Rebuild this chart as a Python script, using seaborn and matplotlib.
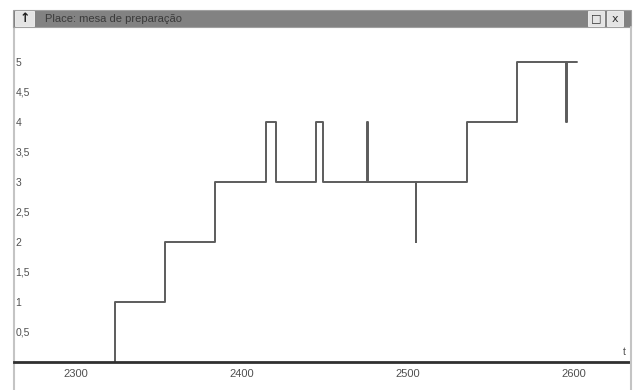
import matplotlib
matplotlib.use("Agg")
import matplotlib.pyplot as plt
from matplotlib.patches import Rectangle
import pandas as pd
import seaborn as sns

# step series: time of change -> value held afterwards
TIMES = [2323.5, 2323.5, 2353.5, 2383.5, 2414.5, 2420.5, 2444.5, 2449.0,
         2475.0, 2476.0, 2504.5, 2505.0, 2535.5, 2565.5, 2595.0, 2596.0, 2602.0]
VALUES = [0, 1, 2, 3, 4, 3, 4, 3, 4, 3, 2, 3, 4, 5, 4, 5, 5]

X_TICKS = [2300, 2400, 2500, 2600]
Y_TICKS = [0.5, 1, 1.5, 2, 2.5, 3, 3.5, 4, 4.5, 5]
Y_LABELS = ["0,5", "1", "1,5", "2", "2,5", "3", "3,5", "4", "4,5", "5"]
TITLE = "Place: mesa de preparação"

W, H = 635, 390

sns.set_theme(style="white")
plt.rcParams["font.family"] = ["Liberation Sans", "DejaVu Sans"]


def fx(px):
    return px / W


def fy(py):
    return 1 - py / H


fig = plt.figure(figsize=(W / 100, H / 100), dpi=100)
fig.patch.set_facecolor("white")

# plot area inside the window frame
ax = fig.add_axes([fx(14), 0, fx(630) - fx(14), fy(27)])
df = pd.DataFrame({"t": TIMES, "value": VALUES})
sns.lineplot(data=df, x="t", y="value", estimator=None, sort=False,
             drawstyle="steps-post", color="#5c5c5c", linewidth=1.4, ax=ax)

ax.set_xlim(2262.65, 2633.7)
ax.set_ylim(-0.467, 5.583)
ax.set_xlabel("")
ax.set_ylabel("")

for side in ["top", "right"]:
    ax.spines[side].set_visible(False)
ax.spines["bottom"].set_position(("data", 0))
ax.spines["bottom"].set_color("#303030")
ax.spines["bottom"].set_linewidth(2)
ax.spines["left"].set_color("#c4c4c4")
ax.spines["left"].set_linewidth(1.5)

ax.set_xticks(X_TICKS)
ax.set_xticklabels([str(v) for v in X_TICKS])
ax.set_yticks(Y_TICKS)
ax.set_yticklabels(Y_LABELS)
ax.tick_params(axis="x", length=0, pad=5, labelsize=8, labelcolor="#505050")
ax.tick_params(axis="y", length=0, pad=-1, labelsize=7.5, labelcolor="#505050")
for lbl in ax.get_yticklabels():
    lbl.set_horizontalalignment("left")

ax.text(2631, 0.08, "t", fontsize=7.5, color="#505050", ha="right", va="bottom")

# window frame: title bar, buttons, right border
fig.add_artist(Rectangle((fx(13), fy(27)), fx(631) - fx(13), fy(10) - fy(27),
                         transform=fig.transFigure, facecolor="#828282",
                         edgecolor="#a0a0a0", linewidth=0.8))
fig.add_artist(Rectangle((fx(15), fy(26)), fx(19), fy(11) - fy(26),
                         transform=fig.transFigure, facecolor="#e4e4e4",
                         edgecolor="#f4f4f4", linewidth=0.6))
fig.text(fx(24.5), fy(18.5), "↑", fontsize=9, color="#202020",
         ha="center", va="center", family=["DejaVu Sans"], fontweight="bold")
fig.text(fx(45), fy(18.5), TITLE, fontsize=8, color="#3a3a3a",
         ha="left", va="center")
for x0, sym in [(588, "□"), (607, "x")]:
    fig.add_artist(Rectangle((fx(x0), fy(26)), fx(16), fy(11) - fy(26),
                             transform=fig.transFigure, facecolor="#e4e4e4",
                             edgecolor="#f4f4f4", linewidth=0.6))
    fig.text(fx(x0 + 8), fy(18.5), sym, fontsize=8, color="#303030",
             ha="center", va="center", family=["DejaVu Sans"])
fig.add_artist(plt.Line2D([fx(631), fx(631)], [0, fy(27)],
                          transform=fig.transFigure, color="#c4c4c4", linewidth=1.5))

fig.savefig("out.png", dpi=100)
plt.close(fig)
